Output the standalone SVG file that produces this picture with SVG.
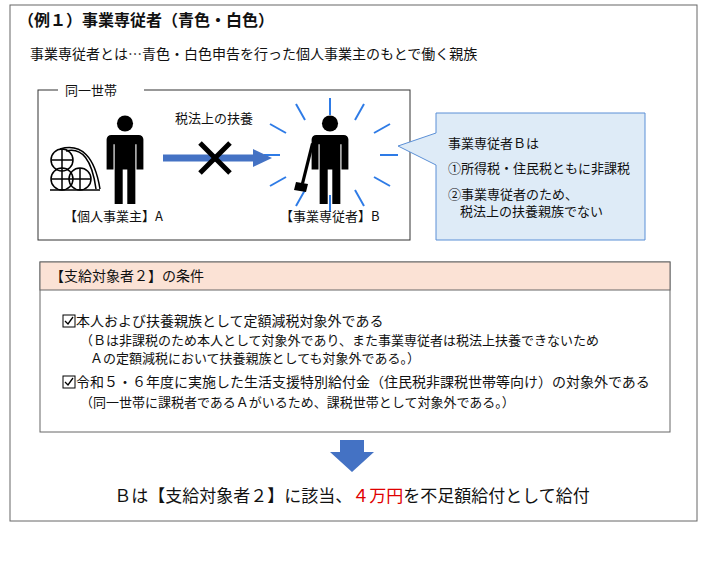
<svg xmlns="http://www.w3.org/2000/svg" width="703" height="562" viewBox="0 0 703 562">
<style>
text{font-family:"Noto Sans CJK JP","Noto Sans",sans-serif;fill:#111}
.s{font-size:13px}
.m{font-size:14px}
.ray{stroke:#2E7BE6;stroke-width:2}
.p{fill:#000}
</style>
<defs>
<g id="person">
<circle cx="0" cy="-30" r="7"/>
<path d="M-12,-20 h24 a4,4 0 0 1 4,4 v26 h-6 v-22 h-1 v52 h-7 v-30 h-4 v30 h-7 v-52 h-1 v22 h-6 v-26 a4,4 0 0 1 4,-4z"/>
</g>
</defs>
<rect width="703" height="562" fill="#fff"/>
<rect x="10" y="5" width="687" height="516" fill="none" stroke="#666" stroke-width="1"/>
<text x="18" y="26" font-size="16" font-weight="bold">（例１）事業専従者（青色・白色）</text>
<text x="30" y="59" class="m">事業専従者とは…青色・白色申告を行った個人事業主のもとで働く親族</text>

<g id="household">
<rect x="38" y="90" width="372" height="150" fill="none" stroke="#333"/>
<rect x="58" y="82" width="86" height="16" fill="#fff"/>
<text x="65" y="95" class="s">同一世帯</text>
</g>

<g id="nodeA">
<g transform="translate(125,158) scale(1.15)" class="p"><use href="#person"/></g>
<g fill="none" stroke="#000" stroke-width="1.5">
<circle cx="62" cy="160" r="11"/><circle cx="62" cy="179" r="11"/><circle cx="80" cy="179" r="11"/>
<path d="M62,149 v22 M51,160 h22 M62,168 v22 M51,179 h22 M80,168 v22 M69,179 h22"/>
<path d="M60,149 Q92,140 100,189" /><path d="M66,151 Q90,145 96,189"/>
<path d="M50,190 h50"/>
</g>
<text x="64" y="221" class="s">【個人事業主】A</text>
</g>

<g id="nodeB">
<g class="ray">
<line x1="330" y1="98" x2="330" y2="115"/><line x1="330" y1="195" x2="330" y2="212"/>
<line x1="296" y1="104" x2="305" y2="120"/><line x1="364" y1="104" x2="355" y2="120"/>
<line x1="270" y1="124" x2="286" y2="133"/><line x1="390" y1="124" x2="374" y2="133"/>
<line x1="264" y1="155" x2="280" y2="155"/><line x1="380" y1="155" x2="398" y2="155"/>
<line x1="270" y1="186" x2="286" y2="177"/><line x1="390" y1="186" x2="374" y2="177"/>
<line x1="296" y1="206" x2="305" y2="190"/><line x1="364" y1="206" x2="355" y2="190"/>
</g>
<g transform="translate(330,158) scale(1.15)" class="p"><use href="#person"/></g>
<path d="M311,143 l3,1 l-10,40 l-3,-1z" fill="#000"/>
<path d="M296,182 l12,2 l-2,8 l-12,-2z" fill="#000"/>
<text x="280" y="221" class="s">【事業専従者】B</text>
</g>

<g id="connectors">
<line x1="163" y1="158" x2="255" y2="158" stroke="#4472C4" stroke-width="7"/>
<polygon points="253,149 272,158 253,167" fill="#4472C4"/>
<path d="M200,143 L230,173 M230,143 L200,173" stroke="#000" stroke-width="5"/>
<text x="175" y="123" class="s">税法上の扶養</text>
<polygon points="340,440 364,440 364,452 374,452 352,472 330,452 340,452" fill="#4472C4"/>
</g>

<g id="callout">
<path d="M436,113 H645 V240 H436 V165 L398,146 L436,133 Z" fill="#DEEBF7" stroke="#5B8FD6"/>
<text x="448" y="148" class="s">事業専従者Ｂは</text>
<text x="448" y="173" class="s">①所得税・住民税ともに非課税</text>
<text x="448" y="199" class="s">②事業専従者のため、</text>
<text x="460" y="216" class="s">税法上の扶養親族でない</text>
</g>

<g id="conditions">
<rect x="40" y="262" width="630" height="170" fill="#fff" stroke="#666"/>
<rect x="40" y="262" width="630" height="28" fill="#FBE2D5" stroke="#666"/>
<text x="50" y="281" class="m">【支給対象者２】の条件</text>
<rect x="63" y="315" width="12" height="12" fill="none" stroke="#000"/>
<path d="M65,321 l3,3 l5,-7" fill="none" stroke="#000" stroke-width="1.3"/>
<text x="76" y="326" class="m">本人および扶養親族として定額減税対象外である</text>
<text x="80" y="345" class="s">（Ｂは非課税のため本人として対象外であり、また事業専従者は税法上扶養できないため</text>
<text x="90" y="363" class="s">Ａの定額減税において扶養親族としても対象外である。）</text>
<rect x="63" y="376" width="12" height="12" fill="none" stroke="#000"/>
<path d="M65,382 l3,3 l5,-7" fill="none" stroke="#000" stroke-width="1.3"/>
<text x="76" y="387" class="m">令和５・６年度に実施した生活支援特別給付金（住民税非課税世帯等向け）の対象外である</text>
<text x="80" y="407" class="s">（同一世帯に課税者であるＡがいるため、課税世帯として対象外である。）</text>
</g>

<text x="352" y="502" font-size="17" text-anchor="middle">Ｂは【支給対象者２】に該当、<tspan fill="#E00000" style="fill:#E00000">４万円</tspan>を不足額給付として給付</text>
</svg>
